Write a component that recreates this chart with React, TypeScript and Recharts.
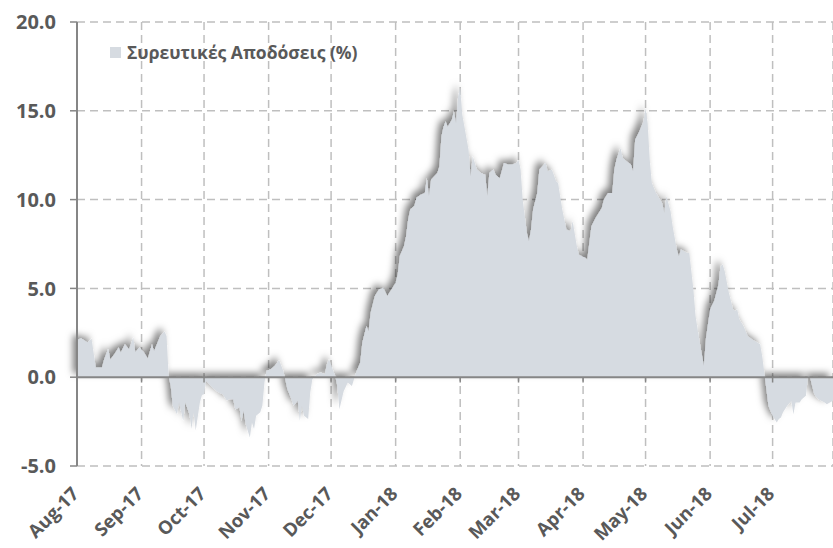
import React from "react";
import {
  AreaChart,
  Area,
  XAxis,
  YAxis,
  CartesianGrid,
  ReferenceLine,
  Legend,
} from "recharts";

// ─── Data ──────────────────────────────────────────────────────────────────────

// days counted from 1 Aug 2017
const dayOffsets = [
  0, 2, 5, 7, 9, 12, 13, 15, 16, 18, 20, 21, 23, 25, 27, 28, 30, 32, 34, 36, 37,
  40, 42, 43, 44, 45, 46, 48, 49, 51, 52, 54, 55, 56, 57, 59, 60, 61, 62, 65, 68,
  70, 72, 73, 75, 76, 78, 79, 80, 81, 83, 84, 85, 86, 88, 89, 90, 91, 93, 95, 97,
  99, 100, 101, 103, 104, 106, 107, 108, 109, 111, 112, 113, 115, 117, 119, 120,
  121, 123, 124, 125, 126, 128, 130, 132, 134, 136, 137, 139, 140, 141, 143, 145,
  147, 149, 151, 153, 154, 155, 157, 158, 159, 160, 162, 163, 165, 167, 168, 169,
  170, 173, 174, 175, 176, 177, 178, 180, 181, 182, 183, 184, 185, 188, 189, 190,
  192, 194, 196, 197, 198, 200, 201, 203, 205, 207, 209, 211, 212, 213, 214, 216,
  217, 218, 219, 221, 222, 225, 226, 228, 230, 231, 233, 235, 237, 238, 240, 241,
  244, 245, 247, 249, 252, 253, 255, 257, 258, 259, 261, 262, 264, 266, 267, 268,
  270, 272, 273, 274, 275, 276, 278, 281, 282, 283, 285, 286, 288, 289, 290, 293,
  294, 296, 297, 299, 301, 302, 304, 306, 308, 309, 310, 311, 313, 315, 316, 317,
  318, 320, 322, 324, 328, 329, 330, 331, 332, 333, 334, 336, 337, 338, 339, 341,
  343, 344, 345, 347, 348, 350, 351, 352, 353, 354, 356, 359, 360, 363,
];

const cumulativeReturns = [
  2.1, 2.2, 1.95, 2.17, 0.54, 0.54, 1.0, 1.6, 1.0, 1.3, 1.67, 1.39, 1.85, 1.57,
  2.23, 1.42, 1.67, 1.42, 1.05, 1.85, 1.48, 2.32, 2.57, 2.32, 0.07, -0.49, -1.61,
  -2.08, -1.42, -2.45, -1.42, -2.08, -2.92, -1.98, -3.0, -1.42, -1.0, -0.96, -0.2,
  -0.58, -0.86, -0.96, -1.33, -1.24, -1.24, -1.8, -1.7, -2.45, -1.89, -2.64,
  -3.39, -2.55, -2.92, -2.17, -1.98, -1.61, -0.3, 0.36, 0.45, 0.64, 0.97, 0.36,
  -0.11, -0.67, -1.24, -1.61, -1.33, -2.45, -1.61, -2.17, -2.36, -0.86, -0.11,
  0.17, 0.26, 0.17, 0.73, 1.01, 0.36, 0.07, -0.49, -1.8, -0.8, -0.3, -0.5, 0.26,
  0.83, 1.95, 2.88, 2.6, 3.63, 4.57, 4.94, 5.04, 4.57, 4.94, 5.32, 5.79, 6.82,
  7.38, 7.94, 8.88, 9.44, 9.66, 10.1, 10.28, 10.37, 11.2, 10.2, 11.12, 11.5,
  11.87, 13.56, 14.1, 14.4, 14.1, 14.5, 14.96, 14.3, 15.8, 16.3, 14.78, 12.8,
  11.3, 12.43, 11.69, 11.5, 11.4, 10.2, 11.5, 11.69, 11.4, 11.2, 12.06, 11.97,
  11.97, 12.06, 12.25, 11.69, 10.0, 8.13, 7.66, 8.31, 9.44, 10.37, 11.69, 12.06,
  11.59, 11.69, 11.03, 10.94, 9.44, 8.31, 8.22, 8.78, 7.38, 6.9, 6.72, 6.63, 8.5,
  8.97, 9.53, 10.0, 10.37, 10.37, 11.69, 12.25, 12.9, 12.34, 12.15, 11.97, 11.59,
  13.37, 13.84, 14.4, 15.15, 14.3, 12.25, 10.94, 10.37, 9.8, 9.25, 10.2, 9.34,
  8.5, 7.19, 6.81, 7.19, 7.0, 7.0, 4.9, 3.44, 1.95, 0.64, 2.2, 3.82, 4.3, 5.2,
  6.25, 6.35, 5.97, 4.76, 3.82, 3.73, 3.82, 3.26, 2.88, 2.32, 2.13, 1.85, 1.2,
  0.26, -0.67, -1.61, -1.9, -2.17, -2.55, -2.36, -2.27, -1.98, -1.61, -1.33,
  -2.08, -1.42, -1.42, -1.24, -1.05, 0.07, 0.0, -0.49, -0.96, -1.24, -1.42,
  -1.52, -1.33,
];

// first day of each month, same day count
const monthTicks = [0, 31, 61, 92, 122, 153, 184, 212, 243, 273, 304, 334];
const monthLabels = [
  "Aug-17", "Sep-17", "Oct-17", "Nov-17", "Dec-17", "Jan-18",
  "Feb-18", "Mar-18", "Apr-18", "May-18", "Jun-18", "Jul-18",
];
const yTicks = [-5, 0, 5, 10, 15, 20];
const seriesName = "Συρευτικές Αποδόσεις (%)";

const data = dayOffsets.map((day, i) => ({ day, value: cumulativeReturns[i] }));

// ─── Styling ───────────────────────────────────────────────────────────────────

const FONT = "'Open Sans', sans-serif";
const TEXT = "#595959";
const AXIS = "#868686";
const GRID = "#bfbfbf";
const FILL = "#d6dbe1";

// month label, rotated -45° and hanging off the bottom of the plot
function MonthTick({ x, y, payload }: any) {
  const label = monthLabels[monthTicks.indexOf(payload.value)];
  const tx = x + 3;
  const ty = y + 29;
  return (
    <text
      x={tx}
      y={ty}
      transform={`rotate(-45, ${tx}, ${ty})`}
      textAnchor="end"
      fill={TEXT}
      fontSize={18.5}
      fontWeight={700}
      fontFamily={FONT}
    >
      {label}
    </text>
  );
}

function LegendBox() {
  return (
    <div style={{ display: "flex", alignItems: "center", fontFamily: FONT }}>
      <span style={{ width: 11, height: 11, background: FILL, marginRight: 6 }} />
      <span style={{ fontSize: 17.5, fontWeight: 700, color: TEXT }}>{seriesName}</span>
    </div>
  );
}

// ─── Component ─────────────────────────────────────────────────────────────────

export default function App() {
  return (
    <div style={{ position: "absolute", left: 0, top: 0, background: "#fff" }}>
      <AreaChart
        width={833}
        height={548}
        data={data}
        margin={{ top: 22, right: 0, bottom: 0, left: 0 }}
      >
        <defs>
          {/* soft dark shadow thrown up and to the left of the area */}
          <filter id="areaShadow" x="-10%" y="-10%" width="120%" height="120%">
            <feDropShadow dx={-4} dy={-4} stdDeviation={3.5} floodColor="#000" floodOpacity={0.5} />
          </filter>
        </defs>
        <CartesianGrid stroke={GRID} strokeWidth={1.5} strokeDasharray="8 5" />
        <XAxis
          dataKey="day"
          type="number"
          domain={[0, 363]}
          ticks={monthTicks}
          interval={0}
          axisLine={false}
          tickLine={false}
          tickSize={0}
          tickMargin={0}
          height={82}
          tick={<MonthTick />}
        />
        <YAxis
          type="number"
          domain={[-5, 20]}
          ticks={yTicks}
          interval={0}
          width={77}
          axisLine={{ stroke: AXIS, strokeWidth: 2 }}
          tickLine={{ stroke: AXIS, strokeWidth: 1.5 }}
          tickSize={7}
          tickMargin={14}
          tickFormatter={(v: number) => v.toFixed(1)}
          tick={{ fill: TEXT, fontSize: 20, fontWeight: 700, fontFamily: FONT }}
        />
        <Area
          dataKey="value"
          name={seriesName}
          type="linear"
          stroke="none"
          fill={FILL}
          fillOpacity={1}
          filter="url(#areaShadow)"
          isAnimationActive={false}
        />
        {/* zero line doubles as the x axis, with small month ticks below it */}
        <ReferenceLine y={0} stroke={AXIS} strokeWidth={2} />
        {monthTicks.map((t) => (
          <ReferenceLine
            key={t}
            segment={[{ x: t, y: 0 }, { x: t, y: -0.3 }]}
            stroke={AXIS}
            strokeWidth={1.5}
          />
        ))}
        <Legend
          layout="vertical"
          align="center"
          verticalAlign="middle"
          wrapperStyle={{ left: 110, top: 40, width: "auto" }}
          content={<LegendBox />}
        />
      </AreaChart>
    </div>
  );
}
